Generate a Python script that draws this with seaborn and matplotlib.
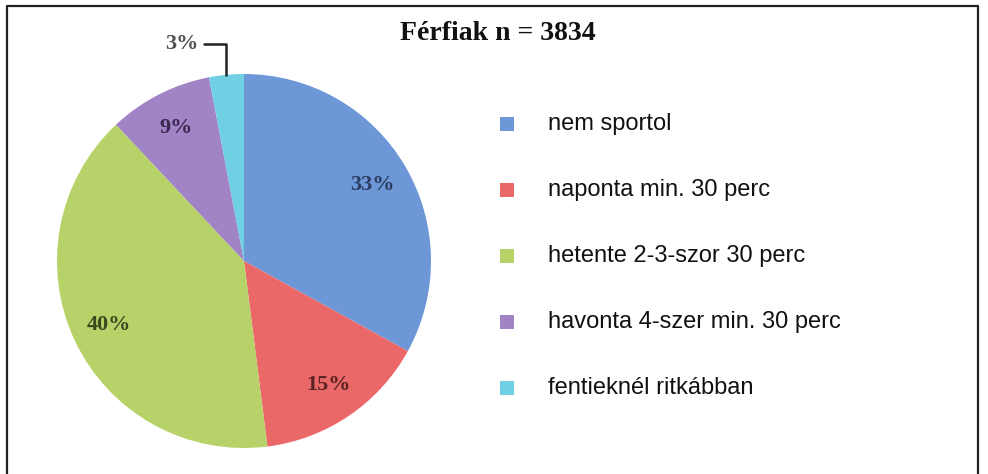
import numpy as np
import matplotlib
matplotlib.use("Agg")
import matplotlib.pyplot as plt
import seaborn as sns
from matplotlib.lines import Line2D

# Data
categories = ["nem sportol", "naponta min. 30 perc", "hetente 2-3-szor 30 perc",
              "havonta 4-szer min. 30 perc", "fentieknél ritkábban"]
shares = [33, 15, 40, 9, 3]
title = "Férfiak n = 3834"

slice_colors = ["#6e97d8", "#ea6868", "#b8d26a", "#a084c6", "#6fcfe3"]
label_colors = ["#2b3d63", "#5b2323", "#3a4a1e", "#3b2850", "#505050"]

sns.set_theme(style="white")
plt.rcParams['font.family'] = ['Liberation Sans', 'DejaVu Sans']

W, H = 988, 474
fig = plt.figure(figsize=(W / 100, H / 100), dpi=100)
fig.patch.set_facecolor("white")

# pie axes: centre (244, 261) px, radius 187 px
cx, cy, r = 244, 261, 187
ax = fig.add_axes([(cx - r) / W, (H - cy - r) / H, 2 * r / W, 2 * r / H])
wedges, texts, autotexts = ax.pie(
    shares, colors=slice_colors, startangle=90, counterclock=False,
    autopct=lambda p: f"{p:.0f}%", pctdistance=0.8,
    wedgeprops=dict(linewidth=0),
    textprops=dict(family="Liberation Serif", fontweight="bold", fontsize=16))
ax.set_xlim(-1, 1)
ax.set_ylim(-1, 1)
ax.set_aspect("equal")
ax.axis("off")

for t, c in zip(autotexts, label_colors):
    t.set_color(c)

# the smallest slice gets an outside label with a leader line
w = wedges[-1]
mid = np.deg2rad((w.theta1 + w.theta2) / 2)
ex, ey = np.cos(mid), np.sin(mid)
ty = 1.16
ax.add_line(Line2D([ex, ex, ex - 0.12], [ey, ty, ty], color="#222222",
                   lw=1.8, clip_on=False))
autotexts[-1].set_position((ex - 0.15, ty))
autotexts[-1].set_ha("right")
autotexts[-1].set_va("center")
autotexts[-1].set_clip_on(False)

# title
fig.text(498 / W, 1 - 33 / H, title, ha="center", va="center",
         family="Liberation Serif", fontweight="bold", fontsize=20, color="#111111")

# legend drawn in its own axes, one row per category
lx0, lx1, ly0, ly1 = 480, 980, 91, 421
lax = fig.add_axes([lx0 / W, 1 - ly1 / H, (lx1 - lx0) / W, (ly1 - ly0) / H])
lax.set_xlim(0, lx1 - lx0)
lax.set_ylim(len(categories) - 0.5, -0.5)
lax.axis("off")
rows = np.arange(len(categories))
lax.scatter(np.full(len(rows), 27), rows, marker="s", s=95,
            c=slice_colors, linewidths=0)
for i, name in enumerate(categories):
    lax.text(68, i, name, ha="left", va="center", fontsize=17, color="#111111")

# frame around the figure
fig.add_artist(Line2D([7 / W, 7 / W, 978 / W, 978 / W],
                      [0, 1 - 6 / H, 1 - 6 / H, 0],
                      transform=fig.transFigure, color="#222222", lw=1.6))

fig.savefig("out.png", dpi=100, facecolor="white")
